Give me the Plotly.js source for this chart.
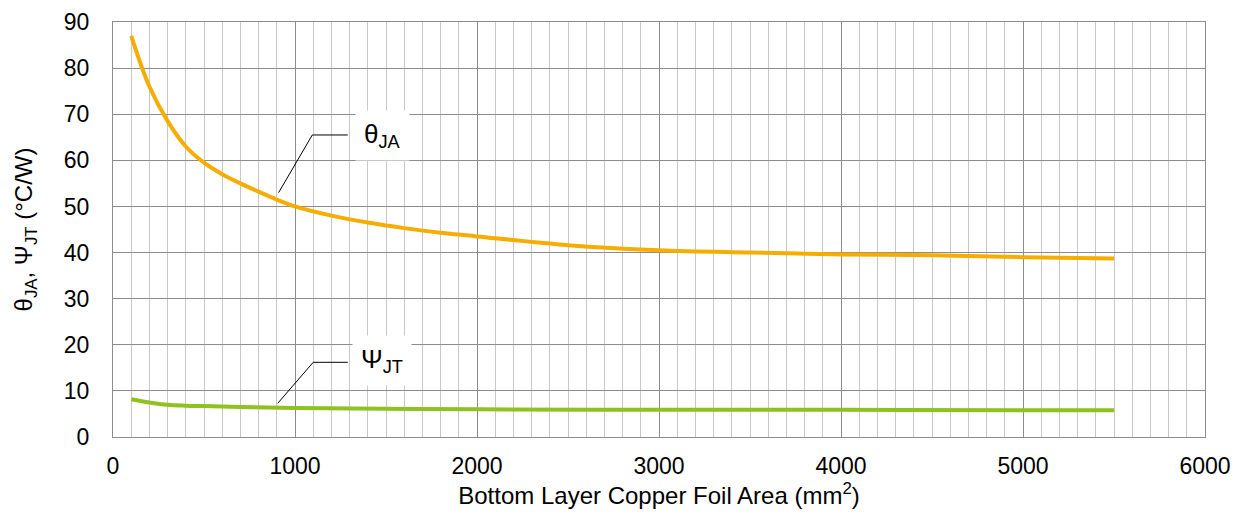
<!DOCTYPE html>
<html>
<head>
<meta charset="utf-8">
<script src="https://cdn.plot.ly/plotly-3.0.1.min.js"></script>
<style>html,body{margin:0;padding:0;background:#fff;}#chart{width:1237px;height:512px;}</style>
</head>
<body>
<div id="chart"></div>
<script>
const areaJA = [100, 200, 300, 400, 500, 600, 700, 800, 900, 1000, 1200, 1400, 1600, 1800, 2000, 2500, 3000, 3500, 4000, 4500, 5000, 5500];
const thetaJA = [87, 76, 68.5, 63, 59.5, 57, 55, 53.2, 51.5, 50, 48, 46.5, 45.3, 44.3, 43.5, 41.6, 40.5, 40, 39.6, 39.4, 39, 38.7];
const areaJT = [100, 200, 300, 400, 500, 700, 1000, 1500, 2000, 3000, 4000, 5000, 5500];
const psiJT = [8.2, 7.5, 7.0, 6.8, 6.7, 6.5, 6.3, 6.1, 6.0, 5.9, 5.9, 5.8, 5.8];
const xTicks = [0, 1000, 2000, 3000, 4000, 5000, 6000];
const yTicks = [0, 10, 20, 30, 40, 50, 60, 70, 80, 90];

const font = "Liberation Sans, Arial, sans-serif";
const traces = [
  {x: areaJA, y: thetaJA, mode: 'lines', line: {color: '#F5AD00', width: 4, shape: 'spline'}, name: 'θJA'},
  {x: areaJT, y: psiJT, mode: 'lines', line: {color: '#8DC21F', width: 4, shape: 'spline'}, name: 'ΨJT'}
];
const leader = {type: 'path', xref: 'x', yref: 'y', line: {color: '#000', width: 1}};
const layout = {
  width: 1237, height: 512,
  margin: {l: 113, r: 32, t: 22, b: 75},
  paper_bgcolor: '#fff', plot_bgcolor: '#fff',
  showlegend: false,
  font: {family: font, color: '#000', size: 23},
  xaxis: {
    range: [0, 6000], tickvals: xTicks, ticktext: xTicks.map(String),
    showgrid: true, gridcolor: '#8c8c8c', gridwidth: 1,
    minor: {dtick: 100, showgrid: true, gridcolor: '#c8c8c8', gridwidth: 1, ticks: ''},
    showline: true, linecolor: '#8c8c8c', linewidth: 1, mirror: true,
    zeroline: false, ticks: '', ticklabelstandoff: 8,
    tickfont: {size: 23, family: font},
    title: {text: 'Bottom Layer Copper Foil Area (mm<sup>2</sup>)', font: {size: 24, family: font}, standoff: 8}
  },
  yaxis: {
    range: [0, 90], tickvals: yTicks, ticktext: yTicks.map(String),
    showgrid: true, gridcolor: '#8c8c8c', gridwidth: 1,
    showline: true, linecolor: '#8c8c8c', linewidth: 1, mirror: true,
    zeroline: false, ticks: '', ticklabelstandoff: 18,
    tickfont: {size: 23, family: font},
    title: {text: 'θ<sub>JA</sub>, Ψ<sub>JT</sub> (°C/W)', font: {size: 24, family: font}, standoff: 24}
  },
  shapes: [
    Object.assign({path: 'M 910 53 L 1095 65.5 L 1290 65.5'}, leader),
    Object.assign({path: 'M 905 7.3 L 1100 16.2 L 1290 16.2'}, leader)
  ],
  annotations: [
    {x: 1480, y: 65.3, xref: 'x', yref: 'y', text: 'θ<sub>JA</sub>', showarrow: false,
     font: {size: 26, family: font}, bgcolor: '#fff', borderpad: 8},
    {x: 1480, y: 16.6, xref: 'x', yref: 'y', text: 'Ψ<sub>JT</sub>', showarrow: false,
     font: {size: 26, family: font}, bgcolor: '#fff', borderpad: 8}
  ]
};
Plotly.newPlot('chart', traces, layout, {displayModeBar: false, staticPlot: true});
</script>
</body>
</html>
